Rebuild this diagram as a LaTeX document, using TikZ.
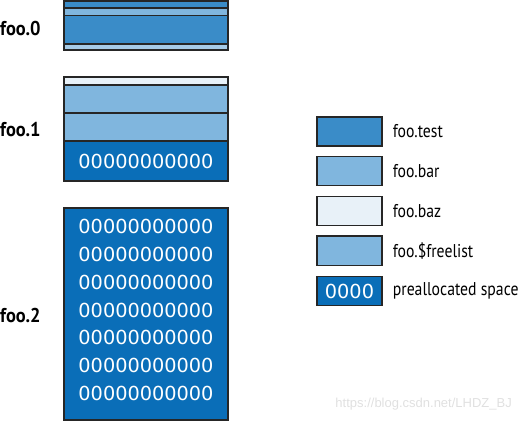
\documentclass[tikz,border=0pt]{standalone}
\usepackage{fontspec}
\setmainfont{PT Sans}
\newfontfamily\condfont[FakeStretch=0.85]{PT Sans}
\newfontfamily\lblfont[FakeStretch=0.92]{PT Sans}
\newfontfamily\zerofont{DejaVu Sans}
\newfontfamily\markfont{Liberation Sans}
\usetikzlibrary{positioning}

\definecolor{testblue}{HTML}{3A8CC8}
\definecolor{barblue}{HTML}{80B6DE}
\definecolor{bazblue}{HTML}{E8F1F8}
\definecolor{freeblue}{HTML}{A6CBE7}
\definecolor{preblue}{HTML}{0A6EB8}

\tikzset{
  seg/.style={draw=black!85, line width=1.1pt, minimum width=164pt,
    inner sep=0pt, outer sep=0pt},
  filelbl/.style={font=\lblfont\fontsize{20}{20}\selectfont\bfseries, anchor=west, inner sep=0pt},
  keybox/.style={draw=black!85, line width=1.4pt, minimum width=65pt,
    minimum height=29pt, inner sep=0pt},
  keytxt/.style={font=\condfont\fontsize{18.5}{18.5}\selectfont, anchor=west, inner sep=0pt},
  zeros/.style={text=white, font=\zerofont\fontsize{19.3}{27.7}\selectfont, align=center}
}

\begin{document}
\begin{tikzpicture}[x=1pt,y=-1pt]
    \useasboundingbox (0,0) rectangle (522,422);
    % foo.0
    \node[seg, fill=testblue, minimum height=7pt, anchor=north west] (f0a) at (64,1) {};
    \node[seg, fill=barblue, minimum height=7.5pt, below=0pt of f0a] (f0b) {};
    \node[seg, fill=testblue, minimum height=28.5pt, below=0pt of f0b] (f0c) {};
    \node[seg, fill=freeblue, minimum height=6pt, below=0pt of f0c] (f0d) {};
    \draw[line width=1.5pt, black!85] (f0a.north west) rectangle (f0d.south east);
    \node[filelbl] (lbl0) at (0,28.5) {foo.0};
    % foo.1
    \node[seg, fill=bazblue, minimum height=8pt, anchor=north west] (f1a) at (64,77) {};
    \node[seg, fill=barblue, minimum height=28pt, below=0pt of f1a] (f1b) {};
    \node[seg, fill=barblue, minimum height=28pt, below=0pt of f1b] (f1c) {};
    \node[seg, fill=preblue, minimum height=40pt, below=0pt of f1c] (f1d) {};
    \draw[line width=1.5pt, black!85] (f1a.north west) rectangle (f1d.south east);
    \node[zeros] (z1) at (f1d.center) {00000000000};
    \node[filelbl] (lbl1) at (0,130) {foo.1};
    % foo.2
    \node[seg, fill=preblue, minimum height=212pt, line width=1.5pt, anchor=north west] (f2a) at (64,208) {};
    \node[zeros] (z2) at (146,310) {00000000000\\00000000000\\00000000000\\00000000000\\
      00000000000\\00000000000\\00000000000};
    \node[filelbl] (lbl2) at (0,315) {foo.2};
    % legend
    \node[keybox, fill=testblue] (ktest) at (349.5,131.5) {};
    \node[keybox, fill=barblue, below=9pt of ktest] (kbar) {};
    \node[keybox, fill=bazblue, below=10pt of kbar] (kbaz) {};
    \node[keybox, fill=barblue, below=9pt of kbaz] (kfree) {};
    \node[keybox, fill=preblue, below=10pt of kfree, text=white,
      font=\zerofont\fontsize{19.3}{19.3}\selectfont] (kpre) {0000};
    \node[keytxt] (ttest) at ([xshift=10pt]ktest.east) {foo.test};
    \node[keytxt] (tbar) at ([xshift=10pt]kbar.east) {foo.bar};
    \node[keytxt] (tbaz) at ([xshift=10pt]kbaz.east) {foo.baz};
    \node[keytxt] (tfree) at ([xshift=10pt]kfree.east) {foo.\$freelist};
    \node[keytxt] (tpre) at ([xshift=10pt]kpre.east) {preallocated space};
    % mark
    \node[font=\markfont\fontsize{13}{13}\selectfont, text=black!12, anchor=east, inner sep=0pt]
      (mark) at (512,404) {https://blog.csdn.net/LHDZ\_BJ};
\end{tikzpicture}
\end{document}
